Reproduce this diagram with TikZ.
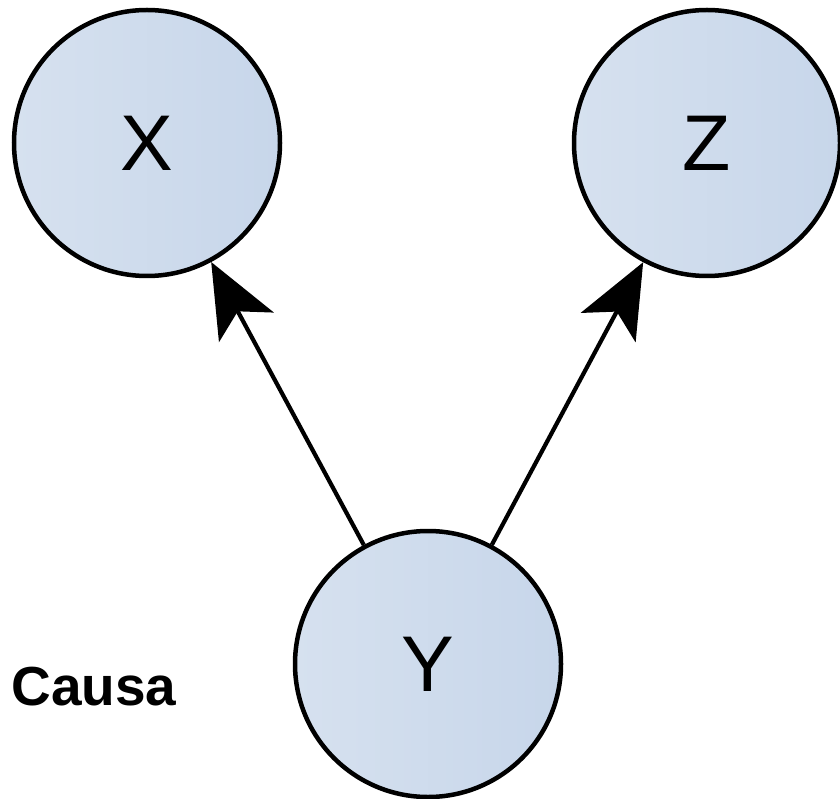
\documentclass[tikz,border=0pt]{standalone}
\usepackage{fontspec}
\setmainfont{Liberation Sans}
\usetikzlibrary{arrows.meta}
\definecolor{nodeL}{RGB}{214,225,239}
\definecolor{nodeR}{RGB}{199,214,234}
\tikzset{
  var/.style={circle, draw=black, line width=4.5pt, minimum size=266pt, inner sep=0pt,
    left color=nodeL, right color=nodeR, font=\fontsize{79}{82}\selectfont},
  causal/.style={line width=4.2pt, -{Stealth[length=74pt,width=62pt,inset=18pt]}},
  lbl/.style={font=\bfseries\fontsize{55}{60}\selectfont, inner sep=0pt, anchor=base}
}
\begin{document}
\begin{tikzpicture}[x=1pt,y=-1pt]
\useasboundingbox (0,0) rectangle (840,799);
\node[var] (X) at (147,143) {X};
\node[var] (Z) at (707,143) {Z};
\node[var] (Y) at (428,664) {Y};
\draw[causal] (Y) -- (X);
\draw[causal] (Y) -- (Z);
\node[lbl] (causa) at (94,705) {Causa};
\end{tikzpicture}
\end{document}
